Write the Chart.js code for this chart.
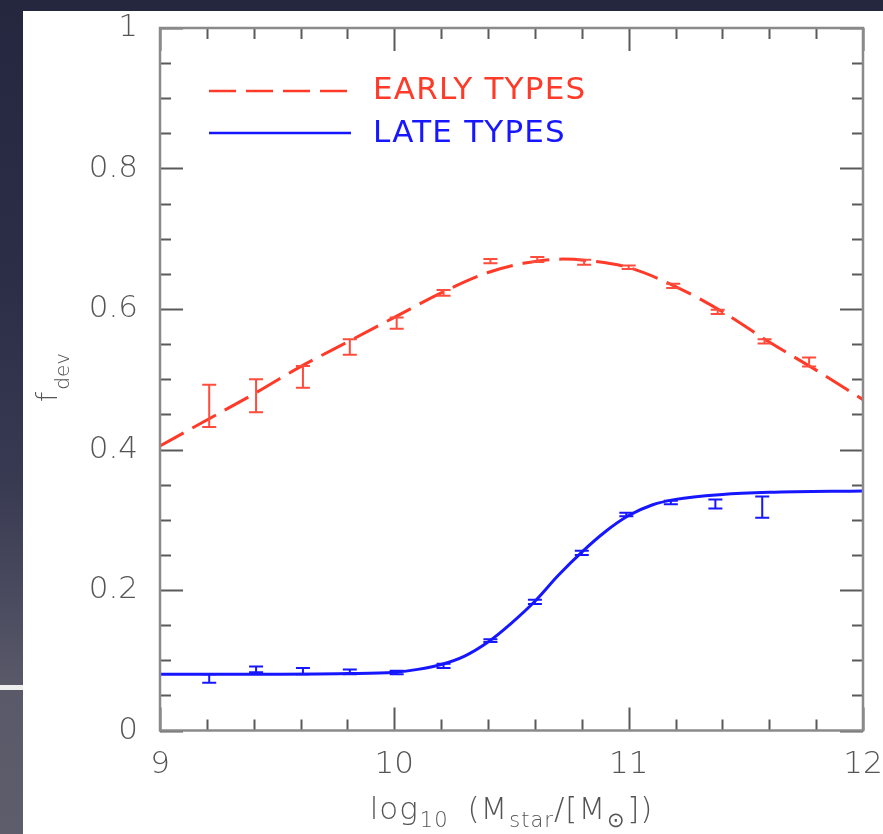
<!DOCTYPE html>
<html>
<head>
<meta charset="utf-8">
<title>f_deV vs stellar mass</title>
<script src="https://cdn.jsdelivr.net/npm/chart.js@4.4.1/dist/chart.umd.min.js"></script>
<style>
  html, body { margin: 0; padding: 0; }
  body {
    width: 883px; height: 834px; overflow: hidden; position: relative;
    background: linear-gradient(180deg, #25273f 0px, #2c2e48 280px, #383a52 480px, #4a4b5f 600px, #595969 685px, #5d5d6b 834px);
  }
  #bar { position: absolute; left: 0; top: 685px; width: 23px; height: 5px; background: #eeeeee; }
  #panel { position: absolute; left: 23px; top: 11px; width: 860px; height: 823px; background: #ffffff; }
  #panel canvas { display: block; }
</style>
</head>
<body>
<div id="bar"></div>
<div id="panel"><canvas id="c" width="860" height="823"></canvas></div>
<script>
// Axis tick labels
const X_TICK_LABELS = ['9', '10', '11', '12'];
const Y_TICK_LABELS = ['0', '0.2', '0.4', '0.6', '0.8', '1'];

// Early types: binned measurements (lower / upper end of each error bar)
const EARLY_X  = [9.21, 9.41, 9.61, 9.81, 10.01, 10.21, 10.41, 10.61, 10.81, 11.00, 11.19, 11.38, 11.58, 11.77];
const EARLY_LO = [0.432, 0.453, 0.488, 0.535, 0.572, 0.619, 0.665, 0.667, 0.663, 0.657, 0.630, 0.593, 0.551, 0.518];
const EARLY_HI = [0.492, 0.500, 0.519, 0.557, 0.588, 0.627, 0.671, 0.674, 0.670, 0.662, 0.636, 0.599, 0.557, 0.531];

// Early types: fitted curve
const EARLY_FIT_X = [9.0, 9.2, 9.4, 9.6, 9.8, 10.0, 10.2, 10.4, 10.55, 10.72, 10.85, 11.0, 11.2, 11.4, 11.6, 11.8, 12.0];
const EARLY_FIT_Y = [0.405, 0.442, 0.479, 0.518, 0.553, 0.588, 0.623, 0.652, 0.665, 0.671, 0.668, 0.659, 0.632, 0.596, 0.553, 0.513, 0.471];

// Late types: binned measurements
const LATE_X  = [9.21, 9.41, 9.61, 9.81, 10.01, 10.21, 10.41, 10.60, 10.80, 10.99, 11.18, 11.37, 11.57];
const LATE_LO = [0.068, 0.083, 0.080, 0.080, 0.080, 0.089, 0.126, 0.180, 0.250, 0.305, 0.322, 0.316, 0.303];
const LATE_HI = [0.080, 0.091, 0.089, 0.087, 0.085, 0.095, 0.130, 0.186, 0.256, 0.310, 0.327, 0.329, 0.333];

// Late types: fitted curve
const LATE_FIT_X = [9.0, 9.4, 9.8, 10.0, 10.1, 10.2, 10.3, 10.4, 10.5, 10.6, 10.7, 10.8, 10.9, 11.0, 11.1, 11.2, 11.4, 11.6, 12.0];
const LATE_FIT_Y = [0.080, 0.080, 0.081, 0.083, 0.087, 0.094, 0.106, 0.126, 0.153, 0.184, 0.221, 0.254, 0.283, 0.306, 0.321, 0.329, 0.336, 0.339, 0.341];

const RED = '#ff3a28';
const RED_BAR = '#ff4c3c';
const BLUE = '#1717ff';
const TEXT = '#555555';
const FONT = '"DejaVu Sans", "Liberation Sans", sans-serif';

const pts = (xs, ys) => xs.map((x, i) => ({ x, y: ys[i] }));
const mid = (lo, hi) => lo.map((v, i) => (v + hi[i]) / 2);

// Frame plus inward ticks on all four sides (long at labelled values)
const framePlugin = {
  id: 'frame',
  afterDatasetsDraw(chart) {
    const { ctx, chartArea: a, scales: { x, y } } = chart;
    ctx.save();
    ctx.strokeStyle = '#5a5a5a';
    ctx.lineWidth = 2;
    x.ticks.forEach(t => {
      const px = Math.round(x.getPixelForValue(t.value)) + 0.5;
      const len = t.major ? 23 : 11;
      ctx.beginPath();
      ctx.moveTo(px, a.bottom); ctx.lineTo(px, a.bottom - len);
      ctx.moveTo(px, a.top); ctx.lineTo(px, a.top + len);
      ctx.stroke();
    });
    y.ticks.forEach(t => {
      const py = Math.round(y.getPixelForValue(t.value)) + 0.5;
      const len = t.major ? 23 : 11;
      ctx.beginPath();
      ctx.moveTo(a.left, py); ctx.lineTo(a.left + len, py);
      ctx.moveTo(a.right, py); ctx.lineTo(a.right - len, py);
      ctx.stroke();
    });
    ctx.strokeStyle = '#8a8a8a';
    ctx.lineWidth = 2.5;
    ctx.strokeRect(a.left, a.top, a.right - a.left, a.bottom - a.top);
    ctx.restore();
  }
};

// Vertical error bars with caps for the binned measurements
const errorBarPlugin = {
  id: 'errorBars',
  afterDatasetsDraw(chart) {
    const { ctx, scales: { x, y } } = chart;
    const draw = (xs, lo, hi, color) => {
      ctx.save();
      ctx.strokeStyle = color;
      ctx.lineWidth = 2;
      xs.forEach((v, i) => {
        const px = x.getPixelForValue(v);
        const p1 = y.getPixelForValue(lo[i]);
        const p2 = y.getPixelForValue(hi[i]);
        ctx.beginPath();
        ctx.moveTo(px, p1); ctx.lineTo(px, p2);
        ctx.moveTo(px - 7, p1); ctx.lineTo(px + 7, p1);
        ctx.moveTo(px - 7, p2); ctx.lineTo(px + 7, p2);
        ctx.stroke();
      });
      ctx.restore();
    };
    draw(EARLY_X, EARLY_LO, EARLY_HI, RED_BAR);
    draw(LATE_X, LATE_LO, LATE_HI, BLUE);
  }
};

// Legend inside the plot and the two axis titles with subscripts
const textPlugin = {
  id: 'texts',
  afterDraw(chart) {
    const { ctx, chartArea: a } = chart;
    ctx.save();
    // legend
    const entries = [chart.data.datasets[0], chart.data.datasets[1]];
    const rows = [80, 122];
    const baselines = [88, 131];
    entries.forEach((ds, i) => {
      ctx.strokeStyle = ds.borderColor;
      ctx.lineWidth = 2.5;
      ctx.setLineDash(ds.borderDash || []);
      ctx.beginPath();
      ctx.moveTo(186, rows[i]); ctx.lineTo(328, rows[i]);
      ctx.stroke();
      ctx.setLineDash([]);
      ctx.fillStyle = ds.borderColor;
      ctx.font = '31px ' + FONT;
      ctx.letterSpacing = '1.2px';
      ctx.textBaseline = 'alphabetic';
      ctx.textAlign = 'left';
      ctx.fillText(ds.label, 350, baselines[i]);
      ctx.letterSpacing = '0px';
    });

    // x title: log10 (Mstar/[M⊙]); last item is extra gap after the piece
    const big = '300 31px ' + FONT, small = '300 21px ' + FONT;
    const parts = [
      ['log', big, 0, 1], ['10', small, 8, 8], [' (M', big, 0, 1], ['star', small, 8, 0],
      ['/[M', big, 0, 1], ['\u2299', small, 8, 1], ['])', big, 0, 0]
    ];
    ctx.letterSpacing = '1px';
    let total = 0;
    parts.forEach(p => { ctx.font = p[1]; total += ctx.measureText(p[0]).width + p[3]; });
    let cx = (a.left + a.right) / 2 - total / 2;
    ctx.fillStyle = TEXT;
    ctx.textAlign = 'left';
    ctx.textBaseline = 'alphabetic';
    parts.forEach(p => {
      ctx.font = p[1];
      ctx.fillText(p[0], cx, 808 + p[2]);
      cx += ctx.measureText(p[0]).width + p[3];
    });
    ctx.letterSpacing = '0px';

    // y title: f_dev, rotated
    ctx.translate(34, 391);
    ctx.rotate(-Math.PI / 2);
    ctx.font = '300 29px ' + FONT;
    ctx.fillText('f', 0, 0);
    const fw = ctx.measureText('f').width;
    ctx.font = '300 20px ' + FONT;
    ctx.fillText('dev', fw + 2, 12);
    ctx.restore();
  }
};

new Chart(document.getElementById('c'), {
  type: 'line',
  data: {
    datasets: [
      {
        label: 'EARLY TYPES',
        data: pts(EARLY_FIT_X, EARLY_FIT_Y),
        borderColor: RED, borderWidth: 3, borderDash: [27, 10],
        pointRadius: 0, cubicInterpolationMode: 'monotone', fill: false
      },
      {
        label: 'LATE TYPES',
        data: pts(LATE_FIT_X, LATE_FIT_Y),
        borderColor: BLUE, borderWidth: 3,
        pointRadius: 0, cubicInterpolationMode: 'monotone', fill: false
      },
      {
        label: 'early bins', type: 'scatter',
        data: pts(EARLY_X, mid(EARLY_LO, EARLY_HI)),
        pointRadius: 0, borderColor: RED_BAR, showLine: false
      },
      {
        label: 'late bins', type: 'scatter',
        data: pts(LATE_X, mid(LATE_LO, LATE_HI)),
        pointRadius: 0, borderColor: BLUE, showLine: false
      }
    ]
  },
  options: {
    responsive: false,
    animation: false,
    devicePixelRatio: 1,
    layout: { padding: { top: 17, right: 20, left: 0, bottom: 0 } },
    plugins: { legend: { display: false }, tooltip: { enabled: false } },
    scales: {
      x: {
        type: 'linear', min: 9, max: 12,
        afterBuildTicks(s) {
          const t = [];
          for (let i = 0; i <= 15; i++) t.push({ value: 9 + i * 0.2, major: i % 5 === 0 });
          s.ticks = t;
        },
        afterFit(s) { s.height = 103.5; s.paddingLeft = 0; s.paddingRight = 0; },
        grid: { display: false }, border: { display: false },
        ticks: {
          autoSkip: false, maxRotation: 0, padding: 8, color: TEXT,
          font: { family: FONT, size: 31, weight: '300' },
          callback(v, i) { return i % 5 === 0 ? X_TICK_LABELS[i / 5] : ''; }
        }
      },
      y: {
        type: 'linear', min: 0, max: 1,
        afterBuildTicks(s) {
          const t = [];
          for (let i = 0; i <= 20; i++) t.push({ value: i * 0.05, major: i % 4 === 0 });
          s.ticks = t;
        },
        afterFit(s) { s.width = 137; s.paddingTop = 0; s.paddingBottom = 0; },
        grid: { display: false }, border: { display: false },
        ticks: {
          autoSkip: false, padding: 14, color: TEXT,
          font: { family: FONT, size: 31, weight: '300' },
          callback(v, i) { return i % 4 === 0 ? Y_TICK_LABELS[i / 4] : ''; }
        }
      }
    }
  },
  plugins: [framePlugin, errorBarPlugin, textPlugin]
});
</script>
</body>
</html>
